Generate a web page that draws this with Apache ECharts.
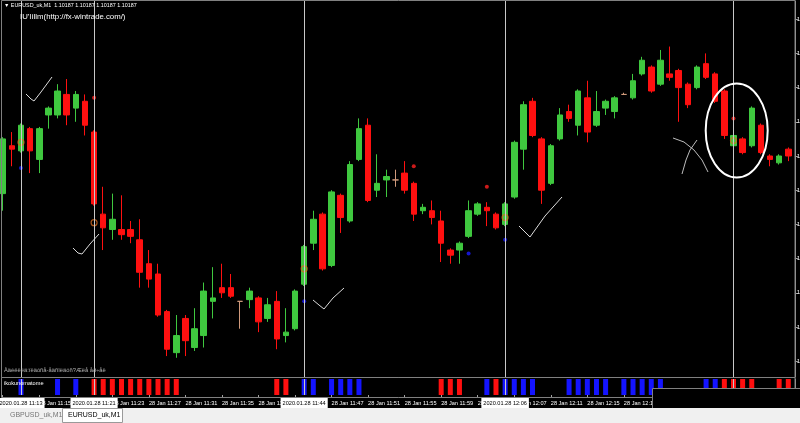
<!DOCTYPE html>
<html>
<head>
<meta charset="utf-8">
<script src="https://cdn.jsdelivr.net/npm/echarts@6/dist/echarts.min.js"></script>
<style>
html, body { margin: 0; padding: 0; background: #000; }
#chart { width: 800px; height: 423px; }
</style>
</head>
<body>
<div id="chart"></div>
<script>
// EURUSD_uk M1, 28 Jan 2020
var times = [
  '11:11','11:12','11:13','11:14','11:15','11:16','11:17','11:18','11:19','11:20',
  '11:21','11:22','11:23','11:24','11:25','11:26','11:27','11:28','11:29','11:30',
  '11:31','11:32','11:33','11:34','11:35','11:36','11:37','11:38','11:39','11:40',
  '11:41','11:42','11:43','11:44','11:45','11:46','11:47','11:48','11:49','11:50',
  '11:51','11:52','11:53','11:54','11:55','11:56','11:57','11:58','11:59','12:00',
  '12:01','12:02','12:03','12:04','12:05','12:06','12:07','12:08','12:09','12:10',
  '12:11','12:12','12:13','12:14','12:15','12:16','12:17','12:18','12:19','12:20',
  '12:21','12:22','12:23','12:24','12:25','12:26','12:27','12:28','12:29','12:30',
  '12:31','12:32','12:33','12:34','12:35','12:36','12:37'
];

var opens = [
  1.10158,1.10186,1.10183,1.10196,1.10178,1.10204,1.10204,1.10216,1.10208,1.10212,
  1.10194,1.10146,1.10137,1.10137,1.10137,1.10131,1.10117,1.10111,1.10089,1.10065,
  1.10085,1.10068,1.10075,1.10095,1.10103,1.10103,1.10095,1.10096,1.10097,1.10085,
  1.10095,1.10075,1.10079,1.10105,1.10129,1.10146,1.10116,1.10157,1.10142,1.10178,
  1.10198,1.10160,1.10166,1.10166,1.10170,1.10164,1.10148,1.10148,1.10142,1.10125,
  1.10125,1.10133,1.10146,1.10150,1.10146,1.10140,1.10156,1.10184,1.10212,1.10190,
  1.10164,1.10190,1.10206,1.10198,1.10214,1.10198,1.10208,1.10206,1.10216,1.10214,
  1.10228,1.10232,1.10222,1.10228,1.10230,1.10222,1.10220,1.10234,1.10228,1.10218,
  1.10186,1.10190,1.10186,1.10198,1.10180,1.10176,1.10184
];
var highs = [
  1.10191,1.10194,1.10199,1.10197,1.10197,1.10209,1.10222,1.10225,1.10218,1.10216,
  1.10195,1.10162,1.10158,1.10157,1.10142,1.10143,1.10125,1.10117,1.10090,1.10087,
  1.10087,1.10091,1.10106,1.10115,1.10117,1.10111,1.10095,1.10103,1.10098,1.10097,
  1.10101,1.10091,1.10102,1.10128,1.10148,1.10147,1.10160,1.10158,1.10177,1.10202,
  1.10202,1.10181,1.10172,1.10172,1.10177,1.10165,1.10152,1.10154,1.10148,1.10126,
  1.10130,1.10154,1.10153,1.10153,1.10147,1.10153,1.10189,1.10212,1.10214,1.10191,
  1.10187,1.10208,1.10210,1.10219,1.10224,1.10218,1.10213,1.10215,1.10217,1.10228,
  1.10238,1.10233,1.10242,1.10244,1.10231,1.10223,1.10233,1.10240,1.10229,1.10219,
  1.10193,1.10191,1.10209,1.10199,1.10181,1.10181,1.10185
];
var lows = [
  1.10148,1.10174,1.10182,1.10170,1.10170,1.10196,1.10202,1.10198,1.10200,1.10192,
  1.10151,1.10125,1.10131,1.10131,1.10129,1.10103,1.10103,1.10086,1.10063,1.10062,
  1.10063,1.10066,1.10068,1.10085,1.10097,1.10097,1.10079,1.10091,1.10077,1.10083,
  1.10067,1.10071,1.10078,1.10104,1.10125,1.10113,1.10115,1.10135,1.10141,1.10177,
  1.10153,1.10156,1.10156,1.10162,1.10158,1.10142,1.10146,1.10140,1.10118,1.10117,
  1.10117,1.10132,1.10145,1.10139,1.10137,1.10139,1.10155,1.10172,1.10191,1.10152,
  1.10163,1.10189,1.10200,1.10192,1.10188,1.10197,1.10204,1.10202,1.10216,1.10213,
  1.10227,1.10217,1.10221,1.10224,1.10200,1.10208,1.10219,1.10225,1.10211,1.10190,
  1.10185,1.10181,1.10185,1.10181,1.10174,1.10175,1.10177
];
var closes = [
  1.10190,1.10184,1.10198,1.10183,1.10196,1.10208,1.10218,1.10204,1.10216,1.10198,
  1.10152,1.10138,1.10143,1.10134,1.10133,1.10112,1.10108,1.10087,1.10067,1.10075,
  1.10072,1.10079,1.10101,1.10097,1.10100,1.10098,1.10095,1.10101,1.10083,1.10093,
  1.10073,1.10077,1.10101,1.10127,1.10143,1.10114,1.10159,1.10144,1.10175,1.10196,
  1.10154,1.10164,1.10168,1.10166,1.10160,1.10146,1.10150,1.10144,1.10129,1.10122,
  1.10129,1.10148,1.10152,1.10148,1.10138,1.10152,1.10188,1.10210,1.10192,1.10160,
  1.10186,1.10204,1.10202,1.10218,1.10194,1.10206,1.10212,1.10214,1.10216,1.10224,
  1.10236,1.10218,1.10236,1.10226,1.10220,1.10210,1.10232,1.10226,1.10212,1.10192,
  1.10192,1.10182,1.10208,1.10182,1.10178,1.10180,1.10180
];

// signal marks on the price chart
var ringTimes = ['11:13','11:21','11:44','12:06','12:31'];
var ringPrices = [1.10188, 1.10141, 1.10114, 1.10144, 1.10189];
var redDotTimes = ['11:21','11:56','12:04','12:31'];
var redDotPrices = [1.10214, 1.10174, 1.10162, 1.10202];
var blueDotTimes = ['11:13','11:44','12:02','12:06'];
var blueDotPrices = [1.10173, 1.10095, 1.10123, 1.10131];

// ikokunomatome window: 1 = blue bar, -1 = red bar
var ikokuSignal = [
  0,0,1,0,0,0,1,0,1,0,
  -1,-1,-1,-1,-1,-1,-1,-1,-1,-1,
  0,0,0,0,0,0,0,0,0,0,
  -1,-1,0,1,1,0,1,1,1,1,
  0,0,0,0,0,0,0,0,-1,-1,
  -1,0,0,1,-1,1,1,1,1,0,
  0,0,1,1,1,1,1,0,1,1,
  1,1,1,0,0,0,0,1,1,-1,
  -1,-1,-1,0,0,-1,-1
];

var vlineTimes = ['11:13','11:21','11:44','12:06','12:31'];
var bidPrice = 1.10184;
var priceTicks = [1.10060,1.10080,1.10100,1.10120,1.10140,1.10160,1.10180,1.10200,1.10220,1.10240,1.10260];

var chart = echarts.init(document.getElementById('chart'));

var candleData = times.map(function (t, i) {
  return [opens[i], closes[i], lows[i], highs[i]];
});
function pairs(ts, vs) {
  return ts.map(function (t, i) { return [t, vs[i]]; });
}
function everyFour(idx) { return idx % 4 === 0; }

var font = 'Liberation Sans';

var option = {
  backgroundColor: '#000',
  animation: false,
  grid: [
    { left: -1.84, top: 1, width: 794.7, height: 376, outerBoundsMode: 'none', containLabel: false },
    { left: -1.84, top: 379, width: 794.7, height: 16, outerBoundsMode: 'none', containLabel: false }
  ],
  xAxis: [
    {
      type: 'category', gridIndex: 0, data: times,
      axisLine: { show: false }, axisTick: { show: false }, axisLabel: { show: false },
      splitLine: { show: false }
    },
    {
      type: 'category', gridIndex: 1, data: times,
      axisLine: { show: false },
      axisTick: { show: true, alignWithLabel: true, interval: everyFour, length: 3,
        lineStyle: { color: '#a0a0a0' } },
      axisLabel: {
        interval: everyFour, align: 'left', color: '#fff', fontSize: 5.6,
        fontFamily: font, margin: 5, hideOverlap: false,
        formatter: function (v) { return '28 Jan ' + v; }
      },
      splitLine: { show: false }
    }
  ],
  yAxis: [
    {
      type: 'value', gridIndex: 0, position: 'right', offset: 2,
      min: 1.1005076, max: 1.1027064,
      splitLine: { show: false },
      axisLine: { show: true, lineStyle: { color: '#a0a0a0' } },
      axisTick: { show: true, length: 3, customValues: priceTicks, lineStyle: { color: '#a0a0a0' } },
      axisLabel: {
        customValues: priceTicks, color: '#fff', fontSize: 6, fontFamily: font, margin: 2,
        formatter: function (v) { return v.toFixed(5); }
      }
    },
    {
      type: 'value', gridIndex: 1, position: 'right', offset: 2, min: 0, max: 1,
      splitLine: { show: false },
      axisLine: { show: true, lineStyle: { color: '#a0a0a0' } },
      axisTick: { show: false }, axisLabel: { show: false }
    }
  ],
  series: [
    {
      type: 'candlestick', xAxisIndex: 0, yAxisIndex: 0,
      data: candleData, barWidth: 6,
      itemStyle: {
        color: '#3fc83f', color0: '#ff1010',
        borderColor: '#3fc83f', borderColor0: '#ff1010',
        borderColorDoji: '#d09a7c', borderWidth: 1
      },
      markLine: {
        silent: true, symbol: 'none', animation: false,
        lineStyle: { color: '#c8c8c8', width: 1, type: 'solid' },
        label: { show: false },
        data: vlineTimes.map(function (t) { return { xAxis: t }; }).concat([{
          yAxis: bidPrice,
          lineStyle: { color: '#8c8c8c', width: 1, type: 'solid' },
          label: {
            show: true, position: 'end', formatter: '1.10187', distance: 3,
            backgroundColor: '#e0e0e0', color: '#000', fontSize: 6, padding: [1, 2]
          }
        }])
      }
    },
    {
      type: 'scatter', xAxisIndex: 0, yAxisIndex: 0, data: pairs(ringTimes, ringPrices),
      symbol: 'circle', symbolSize: 6,
      itemStyle: { color: 'rgba(0,0,0,0)', borderColor: '#d2691e', borderWidth: 1.2 }
    },
    {
      type: 'scatter', xAxisIndex: 0, yAxisIndex: 0, data: pairs(redDotTimes, redDotPrices),
      symbolSize: 4, itemStyle: { color: '#ff2020' }
    },
    {
      type: 'scatter', xAxisIndex: 0, yAxisIndex: 0, data: pairs(blueDotTimes, blueDotPrices),
      symbolSize: 4, itemStyle: { color: '#1a1aff' }
    },
    {
      type: 'bar', xAxisIndex: 1, yAxisIndex: 1, barWidth: 5, barGap: '-100%',
      data: ikokuSignal.map(function (s) { return s === 1 ? 1 : '-'; }),
      itemStyle: { color: '#1414ff' }
    },
    {
      type: 'bar', xAxisIndex: 1, yAxisIndex: 1, barWidth: 5, barGap: '-100%',
      data: ikokuSignal.map(function (s) { return s === -1 ? 1 : '-'; }),
      itemStyle: { color: '#ff0f0f' },
      markLine: {
        silent: true, symbol: 'none', animation: false,
        lineStyle: { color: '#c8c8c8', width: 1, type: 'solid' },
        label: {
          show: true, position: 'start', formatter: '{b}', distance: 3,
          backgroundColor: '#fff', color: '#000', fontSize: 5.6, fontFamily: font,
          padding: [2, 2]
        },
        data: vlineTimes.map(function (t) { return { xAxis: t, name: '2020.01.28 ' + t }; })
      }
    }
  ],
  graphic: [
    // window frames
    { type: 'rect', z: 50, shape: { x: 1.5, y: 0.5, width: 793.5, height: 377 },
      style: { fill: null, stroke: '#808080', lineWidth: 1 } },
    { type: 'rect', z: 50, shape: { x: 1.5, y: 377.5, width: 793.5, height: 20 },
      style: { fill: null, stroke: '#808080', lineWidth: 1 } },
    { type: 'text', z: 50, left: 4, top: 380,
      style: { text: 'ikokunomatome', fill: '#fff', font: '5.6px ' + font } },
    // header texts
    { type: 'text', z: 50, left: 4, top: 3,
      style: { text: '\u25BC EURUSD_uk,M1  1.10187 1.10187 1.10187 1.10187', fill: '#fff', font: '5.4px ' + font } },
    { type: 'text', z: 50, left: 20, top: 13,
      style: { text: "IU'IiIlm(http://fx-wintrade.com/)", fill: '#fff', font: '7.8px ' + font } },
    { type: 'text', z: 50, left: 4, top: 367,
      style: { text: 'Àäéëëëä:ïëäóñå-åäñïëäóñ?Æëå åð÷åë', fill: '#b0b0b0', font: '5.8px ' + font } },
    // hand drawn marks
    { type: 'polyline', z: 60, shape: { points: [[26,94],[31,99],[34,101],[41,92],[52,77]] },
      style: { stroke: '#dcdcdc', lineWidth: 1, fill: null } },
    { type: 'polyline', z: 60, shape: { points: [[73,248],[78,253],[82,254],[90,244],[99,234]] },
      style: { stroke: '#dcdcdc', lineWidth: 1, fill: null } },
    { type: 'polyline', z: 60, shape: { points: [[313,300],[319,305],[324,309],[333,298],[344,288]] },
      style: { stroke: '#dcdcdc', lineWidth: 1, fill: null } },
    { type: 'polyline', z: 60, shape: { points: [[519,226],[525,232],[530,237],[545,216],[562,197]] },
      style: { stroke: '#dcdcdc', lineWidth: 1, fill: null } },
    { type: 'polyline', z: 60, shape: { points: [[673,138],[684,142],[694,150],[702,160],[708,172]] },
      style: { stroke: '#bdbdbd', lineWidth: 1, fill: null } },
    { type: 'polyline', z: 60, shape: { points: [[697,140],[690,150],[686,160],[682,174]] },
      style: { stroke: '#bdbdbd', lineWidth: 1, fill: null } },
    { type: 'ellipse', z: 60, shape: { cx: 736.7, cy: 130.5, rx: 31, ry: 47 },
      style: { stroke: '#fff', lineWidth: 2, fill: null } },
    // covering box, tab bar
    { type: 'rect', z: 100, shape: { x: 652.5, y: 388.5, width: 148, height: 21 },
      style: { fill: '#000', stroke: '#808080', lineWidth: 1 } },
    { type: 'rect', z: 100, shape: { x: 0, y: 408, width: 800, height: 15 },
      style: { fill: '#f0f0f0' } },
    { type: 'rect', z: 101, shape: { x: 62.5, y: 408.5, width: 60, height: 14 },
      style: { fill: '#fff', stroke: '#9a9a9a', lineWidth: 1 } },
    { type: 'text', z: 102, left: 10, top: 412,
      style: { text: 'GBPUSD_uk,M1', fill: '#777', font: '7px ' + font } },
    { type: 'text', z: 102, left: 68, top: 412,
      style: { text: 'EURUSD_uk,M1', fill: '#000', font: '7px ' + font } }
  ]
};

chart.setOption(option);
</script>
</body>
</html>
